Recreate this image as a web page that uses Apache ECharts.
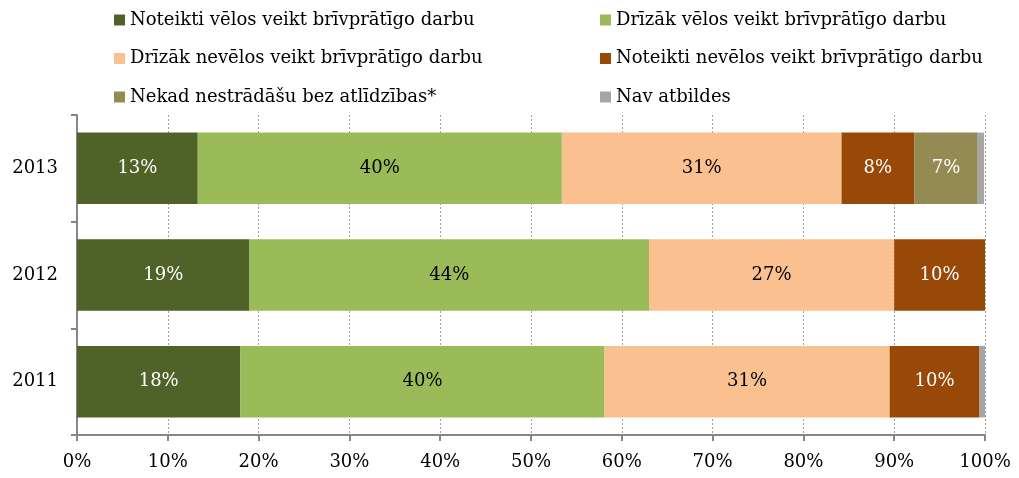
<!DOCTYPE html>
<html><head><meta charset="utf-8">
<script src="https://cdn.jsdelivr.net/npm/echarts@6/dist/echarts.min.js"></script>
<style>html,body{margin:0;padding:0;background:#fff}#c{width:1019px;height:478px}</style>
</head><body><div id="c"></div>
<script>
var categories = ['2011', '2012', '2013'];
var seriesNames = ['Noteikti vēlos veikt brīvprātīgo darbu', 'Drīzāk vēlos veikt brīvprātīgo darbu', 'Drīzāk nevēlos veikt brīvprātīgo darbu', 'Noteikti nevēlos veikt brīvprātīgo darbu', 'Nekad nestrādāšu bez atlīdzības*', 'Nav atbildes'];
var s1 = [18.0, 19.0, 13.3];
var s2 = [40.1, 44.0, 40.1];
var s3 = [31.4, 27.0, 30.8];
var s4 = [9.9, 10.0, 8.0];
var s5 = [0, 0, 7.0];
var s6 = [0.6, 0, 0.7];
var xTicks = [0, 10, 20, 30, 40, 50, 60, 70, 80, 90, 100];

var colors = ['#4F6228', '#9BBB59', '#FAC090', '#984807', '#948A54', '#A6A6A6'];
var labelColors = ['#fff', '#000', '#000', '#fff', '#fff', '#fff'];
var showLabel = [true, true, true, true, true, false];
var allData = [s1, s2, s3, s4, s5, s6];
var FONT = 'DejaVu Serif';

var series = allData.map(function (d, i) {
  return {
    name: seriesNames[i], type: 'bar', stack: 'total', data: d,
    barCategoryGap: '33%',
    itemStyle: { color: colors[i] },
    label: {
      show: showLabel[i], position: 'inside', color: labelColors[i],
      fontFamily: FONT, fontSize: 18,
      formatter: function (p) { return p.value > 0 ? Math.round(p.value) + '%' : ''; }
    }
  };
});

var chart = echarts.init(document.getElementById('c'));
chart.setOption({
  animation: false,
  textStyle: { fontFamily: FONT },
  legend: [
    { left: 109, top: 6, orient: 'vertical', itemGap: 20.5, itemWidth: 11, itemHeight: 11, icon: 'rect',
      data: [seriesNames[0], seriesNames[2], seriesNames[4]],
      textStyle: { fontFamily: FONT, fontSize: 18, color: '#000' } },
    { left: 595, top: 6, orient: 'vertical', itemGap: 20.5, itemWidth: 11, itemHeight: 11, icon: 'rect',
      data: [seriesNames[1], seriesNames[3], seriesNames[5]],
      textStyle: { fontFamily: FONT, fontSize: 18, color: '#000' } }
  ],
  grid: { left: 77, right: 34, top: 115, bottom: 43, containLabel: false },
  xAxis: {
    type: 'value', min: 0, max: 100, interval: 10,
    axisLine: { show: true, lineStyle: { color: '#868686', width: 2 } },
    axisTick: { show: true, length: 6, lineStyle: { color: '#868686', width: 2 } },
    axisLabel: { formatter: function (v) { return xTicks.indexOf(v) >= 0 ? v + '%' : ''; }, fontFamily: FONT, fontSize: 18, color: '#000', margin: 18 },
    splitLine: { show: true, lineStyle: { color: '#A0A0A0', type: [2, 2], width: 1 } }
  },
  yAxis: {
    type: 'category', data: categories,
    axisLine: { show: true, lineStyle: { color: '#868686', width: 2 } },
    axisTick: { show: true, length: 6, lineStyle: { color: '#868686', width: 2 } },
    axisLabel: { fontFamily: FONT, fontSize: 18, color: '#000', margin: 19 }
  },
  series: series
});
</script></body></html>
